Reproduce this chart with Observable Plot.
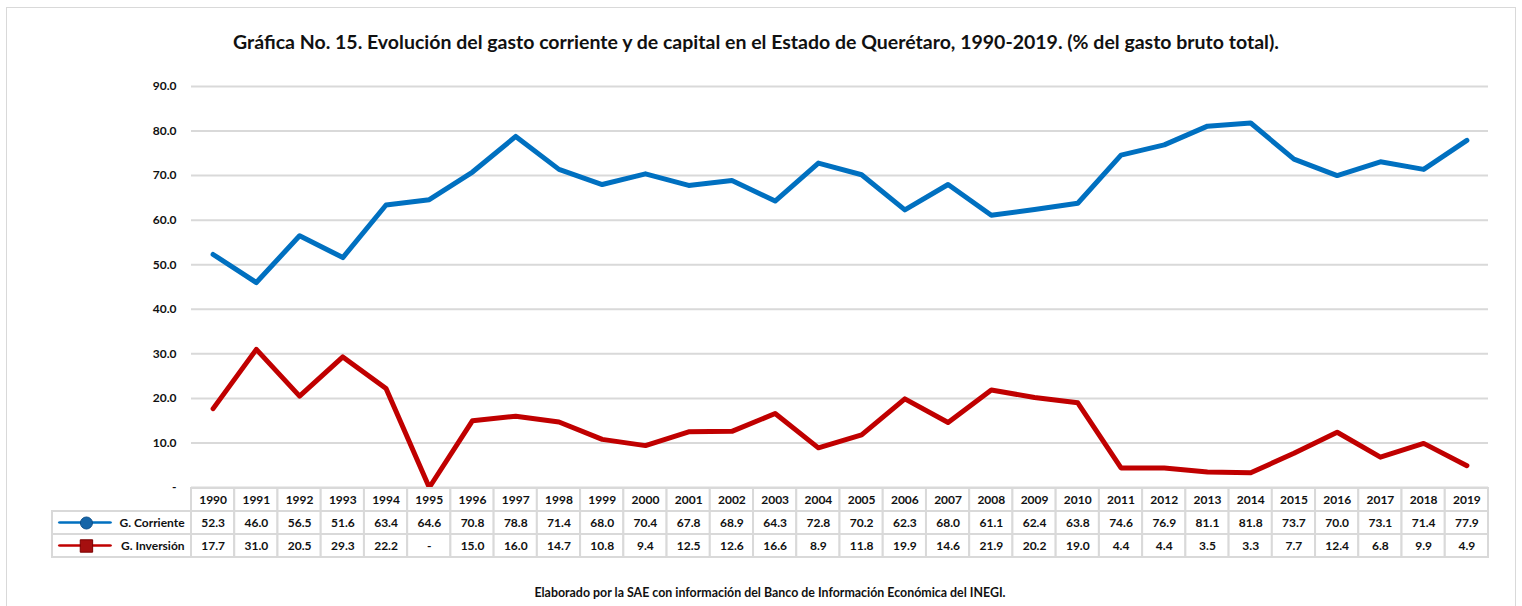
<!DOCTYPE html>
<html><head><meta charset="utf-8">
<script src="https://cdn.jsdelivr.net/npm/d3@7"></script>
<script src="https://cdn.jsdelivr.net/npm/@observablehq/plot@0.6"></script>
<style>
body{margin:0;background:#fff;font-family:Lato,"Open Sans",sans-serif;}
#wrap{position:relative;width:1522px;height:606px;overflow:hidden;background:#fff;}
#frame{position:absolute;left:6px;top:7px;width:1510px;height:700px;border:1.5px solid #d9d9d9;box-sizing:border-box;}
#title{position:absolute;left:0;top:31px;width:1512px;text-align:center;font-weight:700;font-size:19.5px;color:#111;line-height:22px;}
#chart{position:absolute;left:0;top:60px;}
#table{position:absolute;left:0;top:486px;}
#foot{position:absolute;left:18px;top:585px;width:1504px;text-align:center;font-weight:700;font-size:12.4px;color:#111;line-height:16px;}
</style></head>
<body>
<div id="wrap">
  <div id="frame"></div>
  <div id="title"></div>
  <div id="chart"></div>
  <div id="table"></div>
  <div id="foot"></div>
</div>
<script>
const titleText = "Gráfica No. 15. Evolución del gasto corriente y de capital en el Estado de Querétaro, 1990-2019. (% del gasto bruto total).";
const footText = "Elaborado por la SAE con información del Banco de Información Económica del INEGI.";
const years = [1990,1991,1992,1993,1994,1995,1996,1997,1998,1999,2000,2001,2002,2003,2004,2005,2006,2007,2008,2009,2010,2011,2012,2013,2014,2015,2016,2017,2018,2019];
const corriente = [52.3,46.0,56.5,51.6,63.4,64.6,70.8,78.8,71.4,68.0,70.4,67.8,68.9,64.3,72.8,70.2,62.3,68.0,61.1,62.4,63.8,74.6,76.9,81.1,81.8,73.7,70.0,73.1,71.4,77.9];
const inversion = [17.7,31.0,20.5,29.3,22.2,0,15.0,16.0,14.7,10.8,9.4,12.5,12.6,16.6,8.9,11.8,19.9,14.6,21.9,20.2,19.0,4.4,4.4,3.5,3.3,7.7,12.4,6.8,9.9,4.9];
const seriesNames = ["G. Corriente","G. Inversión"];
const seriesColors = ["#0070C0","#C00000"];
const yTicks = [0,10,20,30,40,50,60,70,80,90];

document.getElementById("title").textContent = titleText;
document.getElementById("foot").textContent = footText;

const fmt = v => v === 0 ? "-" : v.toFixed(1);
const lineData = [
  ...years.map((y,i)=>({year:y, value:corriente[i], series:seriesNames[0]})),
  ...years.map((y,i)=>({year:y, value:inversion[i], series:seriesNames[1]}))
];
const xDomain = [years[0]-0.5, years[years.length-1]+0.5];
const common = {width:1522, marginLeft:191, marginRight:34};
const style = {fontFamily:"Lato, 'Open Sans', sans-serif", fontSize:"12px", fontWeight:"700", color:"#111", background:"transparent", overflow:"visible"};

const chart = Plot.plot({
  ...common,
  height:430, marginTop:26, marginBottom:3,
  style,
  x:{domain:xDomain, axis:null},
  y:{domain:[0,90], axis:null},
  color:{domain:seriesNames, range:seriesColors},
  marks:[
    Plot.ruleY(yTicks, {stroke:"#d9d9d9", strokeWidth:2}),
    Plot.axisY({ticks:yTicks, tickSize:0, tickPadding:15, tickFormat:fmt, fontWeight:700, fontSize:12, fill:"#111", label:null}),
    Plot.line(lineData, {x:"year", y:"value", z:"series", stroke:"series", strokeWidth:5, strokeLinejoin:"round", strokeLinecap:"round"})
  ]
});
document.getElementById("chart").appendChild(chart);

// table
const rowKeys = ["Año", ...seriesNames];
const cells = [
  ...years.map((y)=>({year:y, row:rowKeys[0], label:String(y)})),
  ...years.map((y,i)=>({year:y, row:rowKeys[1], label:fmt(corriente[i])})),
  ...years.map((y,i)=>({year:y, row:rowKeys[2], label:fmt(inversion[i])}))
];
const labelRows = seriesNames.map((s,i)=>({row:s, color:seriesColors[i]}));
const xStart = xDomain[0];
const labLeft = xStart - 3.215, glyphA = xStart - 3.076, glyphB = xStart - 1.83, glyphM = xStart - 2.43, labText = xStart - 0.16;

const table = Plot.plot({
  ...common,
  height:74, marginTop:1, marginBottom:2,
  style,
  x:{domain:xDomain, axis:null},
  y:{type:"band", domain:rowKeys, padding:0, axis:null},
  marks:[
    Plot.barX(cells, {x1:d=>d.year-0.5, x2:d=>d.year+0.5, y:"row", fill:"white", stroke:"#d9d9d9", strokeWidth:2}),
    Plot.barX(labelRows, {x1:()=>labLeft, x2:()=>xStart, y:"row", fill:"white", stroke:"#d9d9d9", strokeWidth:2}),
    Plot.text(cells, {x:"year", y:"row", text:"label", fill:"#111", fontWeight:700, fontSize:12}),
    Plot.barX([labelRows[0]], {x1:()=>glyphA, x2:()=>glyphB, y:"row", fill:seriesColors[0], insetTop:10.3, insetBottom:10.3, rx:2}),
    Plot.barX([labelRows[1]], {x1:()=>glyphA, x2:()=>glyphB, y:"row", fill:seriesColors[1], insetTop:10.3, insetBottom:10.3, rx:2}),
    Plot.dot([labelRows[0]], {x:()=>glyphM, y:"row", r:6, fill:"#1565a8", stroke:"#0b4f8a", strokeWidth:1, symbol:"circle"}),
    Plot.dot([labelRows[1]], {x:()=>glyphM, y:"row", r:7, fill:"#a50f0f", stroke:"#7a0000", strokeWidth:1, symbol:"square"}),
    Plot.text(labelRows, {x:()=>labText, y:"row", text:"row", textAnchor:"end", fill:"#111", fontWeight:700, fontSize:12})
  ]
});
document.getElementById("table").appendChild(table);
</script>
</body></html>
